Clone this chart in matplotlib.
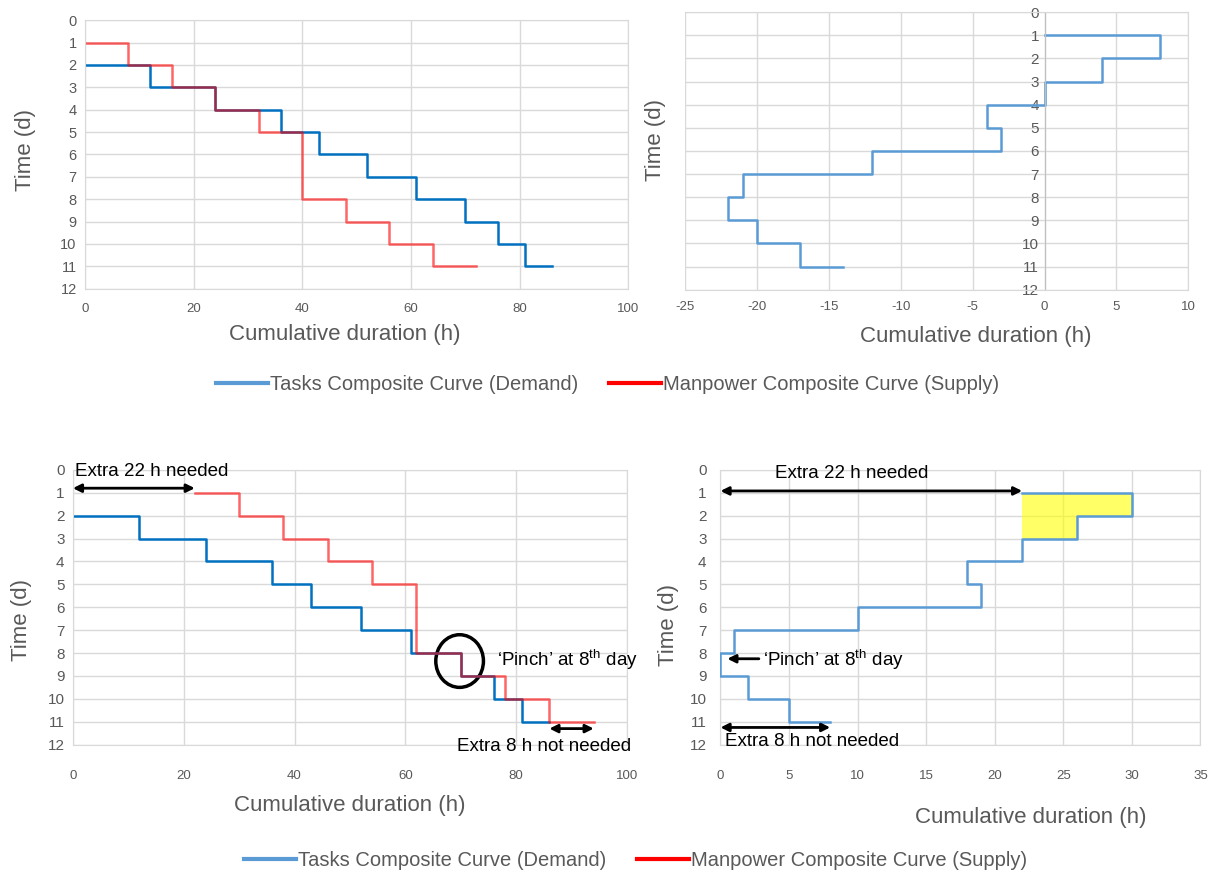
import numpy as np
import matplotlib
matplotlib.use("Agg")
from matplotlib import pyplot as plt
from matplotlib.lines import Line2D
from matplotlib.patches import Ellipse

plt.rcParams['font.family'] = ['Liberation Sans', 'DejaVu Sans']
plt.rcParams['mathtext.fontset'] = 'custom'
plt.rcParams['mathtext.rm'] = 'Liberation Sans'
plt.rcParams['axes.unicode_minus'] = False

# days 1..11, cumulative hours read at the end of each day
days = [1, 2, 3, 4, 5, 6, 7, 8, 9, 10, 11]
demand_cum = [0, 12, 24, 36, 43, 52, 61, 70, 76, 81, 86]    # tasks
supply_cum = [8, 16, 24, 32, 40, 40, 40, 48, 56, 64, 72]    # manpower
net_cum = [8, 4, 0, -4, -3, -12, -21, -22, -20, -17, -14]   # grand composite
extra_needed = 22
extra_not_needed = 8

blue_dk = '#0070C0'
blue_lt = '#5B9BD5'
red = '#FF0000'
grey = '#595959'
gridc = '#D9D9D9'


def step_path(d, cum, start=0.0):
    xs, ys = [start], [d[0]]
    for i in range(len(d)):
        xs.append(cum[i]); ys.append(d[i])
        if i < len(d) - 1:
            xs.append(cum[i]); ys.append(d[i + 1])
    return xs, ys


def style(ax, xlim, xstep, ypad, xpad):
    ax.set_xlim(*xlim)
    ax.set_ylim(12, 0)
    ax.set_xticks(np.arange(xlim[0], xlim[1] + 1, xstep))
    ax.set_yticks(range(0, 13))
    ax.grid(True, color=gridc, lw=1)
    ax.set_axisbelow(True)
    for s in ax.spines.values():
        s.set_color(gridc)
    ax.tick_params(length=0, labelsize=9.5, colors=grey)
    ax.tick_params(axis='y', pad=ypad, labelsize=10.5)
    ax.tick_params(axis='x', pad=xpad)


fig = plt.figure(figsize=(12.15, 8.75), dpi=100)

# top left: both composite curves
ax1 = fig.add_axes([0.070, 0.670, 0.447, 0.307])
style(ax1, (0, 100), 20, 6, 10)
xd, yd = step_path(days[1:], demand_cum[1:])
ax1.plot(xd, yd, color=blue_dk, lw=1.8)
xs, ys = step_path(days, supply_cum)
ax1.plot(xs, ys, color=red, lw=1.8, alpha=0.6)
ax1.text(0.479, -0.171, 'Cumulative duration (h)', transform=ax1.transAxes,
         ha='center', va='center', fontsize=16, color=grey)
ax1.text(-0.110, 0.517, 'Time (d)', transform=ax1.transAxes, rotation=90,
         ha='center', va='center', fontsize=16, color=grey)

# top right: grand composite curve
ax2 = fig.add_axes([0.564, 0.669, 0.414, 0.317])
style(ax2, (-25, 10), 5, 4, 8)
ax2.spines['left'].set_position(('data', 0))
ax2.spines['left'].set_color('#BFBFBF')
ax2.tick_params(axis='y', labelsize=11)
xn, yn = step_path(days, net_cum)
ax2.plot(xn, yn, color=blue_lt, lw=1.8)
ax2.text(0.577, -0.169, 'Cumulative duration (h)', transform=ax2.transAxes,
         ha='center', va='center', fontsize=16, color=grey)
ax2.text(-0.06, 0.54, 'Time (d)', transform=ax2.transAxes, rotation=90,
         ha='center', va='center', fontsize=16, color=grey)

# bottom left: supply shifted
ax3 = fig.add_axes([0.060, 0.149, 0.456, 0.314])
style(ax3, (0, 100), 20, 6, 18)
ax3.tick_params(axis='y', labelsize=11)
ax3.plot(xd, yd, color=blue_dk, lw=1.8)
xs2, ys2 = step_path(days, [v + extra_needed for v in supply_cum], extra_needed)
ax3.plot(xs2, ys2, color=red, lw=1.8, alpha=0.6)
ax3.text(0.5, -0.222, 'Cumulative duration (h)', transform=ax3.transAxes,
         ha='center', va='center', fontsize=16, color=grey)
ax3.text(-0.092, 0.455, 'Time (d)', transform=ax3.transAxes, rotation=90,
         ha='center', va='center', fontsize=16, color=grey)
arr = dict(arrowstyle='<|-|>', color='k', lw=2, shrinkA=0, shrinkB=0, mutation_scale=12)
ax3.annotate('', xy=(0, 0.8), xytext=(extra_needed, 0.8), arrowprops=arr,
             annotation_clip=False)
ax3.text(0.4, 0.05, 'Extra 22 h needed', fontsize=13.5, va='center', ha='left')
ax3.add_patch(Ellipse((69.8, 8.35), 8.6, 2.3, fill=False, lw=2.5, color='k'))
ax3.text(76.5, 8.3, '\u2018Pinch\u2019 at 8$^{\\mathrm{th}}$ day', fontsize=13.5,
         va='center', ha='left', clip_on=False)
ax3.annotate('', xy=(supply_cum[-1] + extra_needed - extra_not_needed, 11.3),
             xytext=(supply_cum[-1] + extra_needed, 11.3), arrowprops=arr,
             annotation_clip=False)
ax3.text(100.8, 12.1, 'Extra 8 h not needed', fontsize=13.5, va='center',
         ha='right', clip_on=False)

# bottom right: grand composite shifted
ax4 = fig.add_axes([0.593, 0.149, 0.395, 0.314])
style(ax4, (0, 35), 5, 10, 18)
ax4.tick_params(axis='y', labelsize=11)
xg, yg = step_path(days, [v + extra_needed for v in net_cum], extra_needed)
ax4.fill(xg[:6], yg[:6], color='#FFFF00', alpha=0.6, lw=0, zorder=1.5)
ax4.plot(xg, yg, color=blue_lt, lw=1.8, zorder=3)
ax4.text(0.646, -0.265, 'Cumulative duration (h)', transform=ax4.transAxes,
         ha='center', va='center', fontsize=16, color=grey)
ax4.text(-0.108, 0.436, 'Time (d)', transform=ax4.transAxes, rotation=90,
         ha='center', va='center', fontsize=16, color=grey)
ax4.annotate('', xy=(0, 0.92), xytext=(extra_needed, 0.92), arrowprops=arr,
             annotation_clip=False)
ax4.text(9.6, 0.15, 'Extra 22 h needed', fontsize=13.5, va='center', ha='center')
ax4.annotate('', xy=(0.5, 8.25), xytext=(2.8, 8.25),
             arrowprops=dict(arrowstyle='-|>', color='k', lw=2, shrinkA=0,
                             shrinkB=0, mutation_scale=12))
ax4.text(3.1, 8.3, '\u2018Pinch\u2019 at 8$^{\\mathrm{th}}$ day', fontsize=13.5,
         va='center', ha='left')
ax4.annotate('', xy=(0, 11.25), xytext=(extra_not_needed, 11.25), arrowprops=arr,
             annotation_clip=False)
ax4.text(0.3, 11.85, 'Extra 8 h not needed', fontsize=13.5, va='center',
         ha='left', clip_on=False)

handles = [Line2D([], [], color=blue_lt, lw=3),
           Line2D([], [], color=red, lw=3)]
labels = ['Tasks Composite Curve (Demand)', 'Manpower Composite Curve (Supply)']
for yy, xx in [(0.561, 0.500), (0.017, 0.523)]:
    lg = fig.legend(handles, labels, loc='center', bbox_to_anchor=(xx, yy),
                    ncol=2, frameon=False, fontsize=14.5, handlelength=2.6,
                    handletextpad=0.1, columnspacing=1.5)
    for t in lg.get_texts():
        t.set_color(grey)

fig.savefig('out.png', dpi=100)
